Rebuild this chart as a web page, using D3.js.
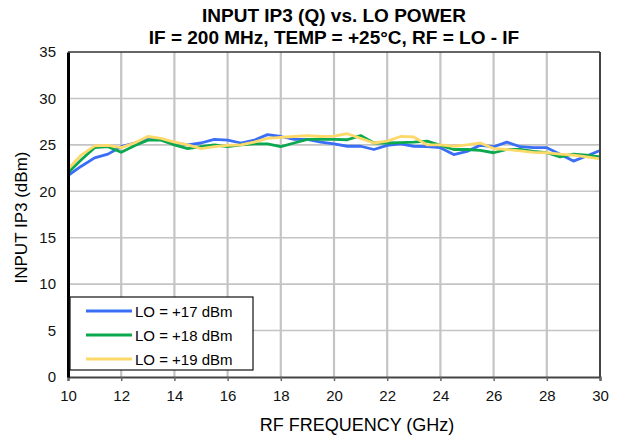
<!DOCTYPE html>
<html>
<head>
<meta charset="utf-8">
<script src="https://cdn.jsdelivr.net/npm/d3@7"></script>
<style>
  html, body { margin: 0; padding: 0; background: #fff; }
  svg { display: block; font-family: "Liberation Sans", Arial, Helvetica, sans-serif; }
</style>
</head>
<body>
<svg id="chart" width="618" height="439"></svg>
<script>
// RF frequency sweep (GHz), 0.5 GHz steps
const freqGHz = [10,10.5,11,11.5,12,12.5,13,13.5,14,14.5,15,15.5,16,16.5,17,17.5,18,18.5,19,19.5,
                 20,20.5,21,21.5,22,22.5,23,23.5,24,24.5,25,25.5,26,26.5,27,27.5,28,28.5,29,29.5,30];

// Input IP3 (dBm) for each LO drive level
const ip3Lo17 = [21.7,22.7,23.6,24.0,24.8,25.2,25.6,25.6,25.2,25.0,25.2,25.6,25.5,25.2,25.5,26.1,25.9,25.6,25.6,25.3,
                 25.1,24.85,24.85,24.5,24.95,25.1,24.85,24.8,24.7,23.95,24.3,24.95,24.8,25.3,24.8,24.7,24.7,24.0,23.25,23.8,24.4];
const ip3Lo18 = [22.0,23.4,24.7,24.8,24.2,24.9,25.5,25.5,25.0,24.6,24.8,25.0,24.8,25.0,25.1,25.1,24.8,25.2,25.6,25.6,
                 25.6,25.55,26.0,25.2,25.2,25.25,25.3,25.4,24.95,24.5,24.5,24.4,24.15,24.5,24.5,24.3,24.15,23.7,24.0,23.9,23.7];
const ip3Lo19 = [22.4,23.9,24.9,24.95,24.7,25.2,25.9,25.7,25.3,25.0,24.6,24.8,24.95,25.0,25.3,25.7,25.8,25.9,26.0,25.9,
                 25.95,26.2,25.7,25.2,25.4,25.9,25.85,25.0,25.0,24.85,25.0,25.2,24.6,24.5,24.35,24.2,24.15,24.0,23.9,23.7,23.5];

const seriesNames = ["LO = +17 dBm", "LO = +18 dBm", "LO = +19 dBm"];
const seriesColors = ["#3a6ef6", "#0aa84f", "#fdd96a"];
const seriesValues = [ip3Lo17, ip3Lo18, ip3Lo19];

const xTicks = [10,12,14,16,18,20,22,24,26,28,30];
const yTicks = [0,5,10,15,20,25,30,35];

const svg = d3.select("#chart");
const plotLeft = 68, plotRight = 600, plotTop = 52, plotBottom = 377;

const x = d3.scaleLinear().domain([10, 30]).range([plotLeft, plotRight]);
const y = d3.scaleLinear().domain([0, 35]).range([plotBottom, plotTop]);

// grid
const grid = svg.append("g");
grid.selectAll("line.v").data(xTicks.slice(1, -1)).join("line")
  .attr("x1", d => x(d)).attr("x2", d => x(d))
  .attr("y1", plotTop).attr("y2", plotBottom)
  .attr("stroke", "#c4c4c4").attr("stroke-width", 2.2);
grid.selectAll("line.h").data(yTicks.slice(1, -1)).join("line")
  .attr("x1", plotLeft).attr("x2", plotRight)
  .attr("y1", d => y(d)).attr("y2", d => y(d))
  .attr("stroke", "#c4c4c4").attr("stroke-width", 1.6);

// series
const line = d3.line().x((d, i) => x(freqGHz[i])).y(d => y(d));
seriesValues.forEach((vals, k) => {
  svg.append("path").datum(vals)
    .attr("fill", "none")
    .attr("stroke", seriesColors[k])
    .attr("stroke-width", 2.8)
    .attr("stroke-linejoin", "round")
    .attr("d", line);
});

// frame
svg.append("line").attr("x1", plotLeft).attr("x2", plotRight).attr("y1", plotTop).attr("y2", plotTop)
  .attr("stroke", "#333").attr("stroke-width", 1.5);
svg.append("line").attr("x1", plotRight).attr("x2", plotRight).attr("y1", plotTop).attr("y2", plotBottom)
  .attr("stroke", "#444").attr("stroke-width", 2);

// axes
const xAxis = svg.append("g").attr("transform", `translate(0,${plotBottom})`)
  .call(d3.axisBottom(x).tickValues(xTicks).tickSize(4).tickPadding(9).tickFormat(d3.format("d")));
xAxis.select(".domain").attr("stroke", "#444").attr("stroke-width", 2.2);
xAxis.selectAll(".tick line").attr("stroke", "#666").attr("stroke-width", 1.5);
xAxis.selectAll("text").attr("font-size", 15).attr("fill", "#111");

const yAxis = svg.append("g").attr("transform", `translate(${plotLeft},0)`)
  .call(d3.axisLeft(y).tickValues(yTicks).tickSize(0).tickPadding(12).tickFormat(d3.format("d")));
yAxis.select(".domain").attr("stroke", "#000").attr("stroke-width", 3);
yAxis.selectAll("text").attr("font-size", 15).attr("fill", "#111");

// titles
svg.append("text").attr("x", 334).attr("y", 22).attr("text-anchor", "middle")
  .attr("font-size", 19).attr("font-weight", "bold").text("INPUT IP3 (Q) vs. LO POWER");
svg.append("text").attr("x", 334).attr("y", 44).attr("text-anchor", "middle")
  .attr("font-size", 19).attr("font-weight", "bold").text("IF = 200 MHz, TEMP = +25°C, RF = LO - IF");
svg.append("text").attr("x", 357).attr("y", 431).attr("text-anchor", "middle")
  .attr("font-size", 18).text("RF FREQUENCY (GHz)");
svg.append("text").attr("transform", `translate(27,${(plotTop + plotBottom) / 2 + 3}) rotate(-90)`)
  .attr("text-anchor", "middle").attr("font-size", 17).text("INPUT IP3 (dBm)");

// legend
const lg = svg.append("g").attr("transform", "translate(70,297)");
lg.append("rect").attr("width", 183).attr("height", 73)
  .attr("fill", "#fff").attr("stroke", "#111").attr("stroke-width", 1.2);
seriesNames.forEach((name, k) => {
  const yy = 14 + k * 24;
  lg.append("line").attr("x1", 16).attr("x2", 62).attr("y1", yy).attr("y2", yy)
    .attr("stroke", seriesColors[k]).attr("stroke-width", 2.8);
  lg.append("text").attr("x", 65).attr("y", yy + 5.5).attr("font-size", 15).text(name);
});
</script>
</body>
</html>
